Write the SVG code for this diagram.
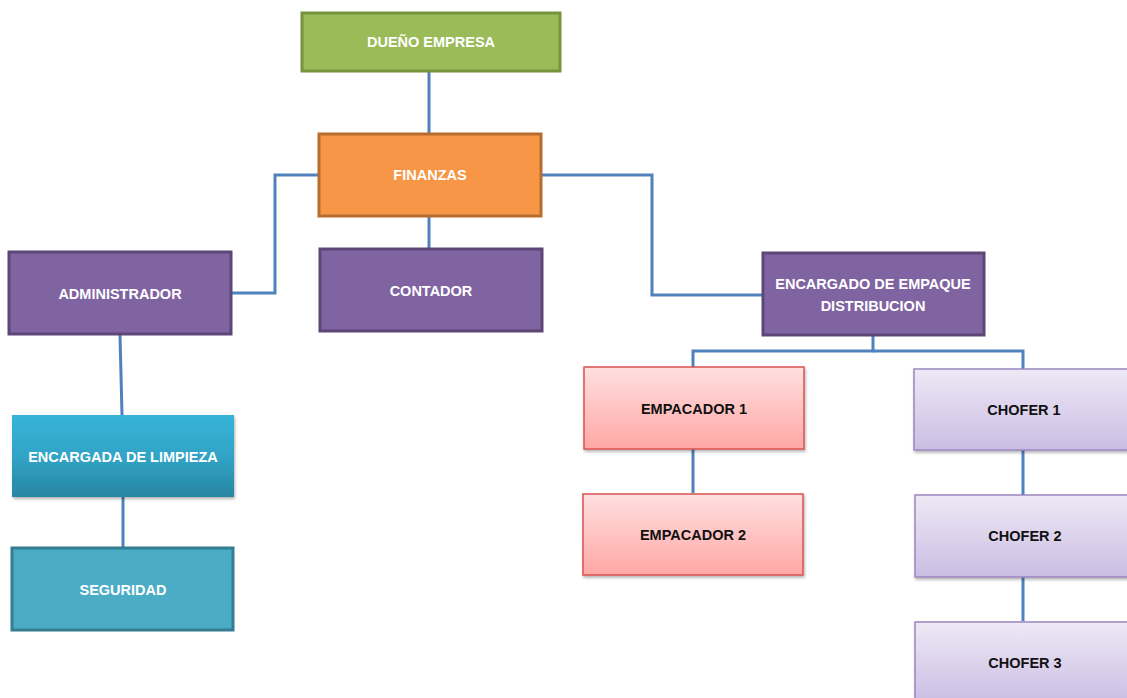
<svg xmlns="http://www.w3.org/2000/svg" width="1127" height="698" viewBox="0 0 1127 698">
<defs>
<linearGradient id="gCyan" x1="0" y1="0" x2="0" y2="1"><stop offset="0" stop-color="#37b4d9"/><stop offset="0.5" stop-color="#31a4c6"/><stop offset="1" stop-color="#2886a3"/></linearGradient>
<linearGradient id="gPink" x1="0" y1="0" x2="0" y2="1"><stop offset="0" stop-color="#ffe0e0"/><stop offset="1" stop-color="#ffa7a5"/></linearGradient>
<linearGradient id="gLav" x1="0" y1="0" x2="0" y2="1"><stop offset="0" stop-color="#eee9f6"/><stop offset="1" stop-color="#cbbde3"/></linearGradient>
<filter id="sh" x="-10%" y="-10%" width="130%" height="140%"><feDropShadow dx="1" dy="2" stdDeviation="1.5" flood-color="#000" flood-opacity="0.3"/></filter>
</defs>
<style>
.w{font-family:"Liberation Sans",Arial,sans-serif;font-weight:bold;font-size:14.5px;fill:#fff;text-anchor:middle;dominant-baseline:central}
.k{font-family:"Liberation Sans",Arial,sans-serif;font-weight:bold;font-size:14.5px;fill:#111;text-anchor:middle;dominant-baseline:central}
.purple{fill:#8064a2;stroke:#5c4776;stroke-width:3}
.c{fill:none;stroke:#4f81bd;stroke-width:3}
</style>
<g id="connectors">
<path class="c" d="M429 71 V133"/>
<path class="c" d="M429 217 V248"/>
<path class="c" d="M232 293 H275 V175 H318"/>
<path class="c" d="M542 175 H652 V295 H762"/>
<path class="c" d="M120 335 L122 415"/>
<path class="c" d="M123 497 V547"/>
<path class="c" d="M873 336 V351 H693 V367"/>
<path class="c" d="M873 351 H1023 V369"/>
<path class="c" d="M693 449 V493"/>
<path class="c" d="M1023 450 V495"/>
<path class="c" d="M1023 577 V621"/>
</g>
<g id="duenio">
<rect x="302" y="13" width="258" height="58" fill="#9bbb59" stroke="#77933c" stroke-width="3"/>
<text class="w" x="431" y="42">DUEÑO EMPRESA</text>
</g>
<g id="finanzas">
<rect x="319" y="134" width="222" height="82" fill="#f79646" stroke="#b86d2f" stroke-width="3"/>
<text class="w" x="430" y="175">FINANZAS</text>
</g>
<g id="administrador">
<rect class="purple" x="9" y="252" width="222" height="82"/>
<text class="w" x="120" y="294">ADMINISTRADOR</text>
</g>
<g id="contador">
<rect class="purple" x="320" y="249" width="222" height="82"/>
<text class="w" x="431" y="291">CONTADOR</text>
</g>
<g id="encargado">
<rect class="purple" x="763" y="253" width="221" height="82"/>
<text class="w" x="873" y="284">ENCARGADO DE EMPAQUE</text>
<text class="w" x="873" y="306">DISTRIBUCION</text>
</g>
<g id="limpieza">
<rect x="12" y="415" width="222" height="82" fill="url(#gCyan)" filter="url(#sh)"/>
<text class="w" x="123" y="457">ENCARGADA DE LIMPIEZA</text>
</g>
<g id="seguridad">
<rect x="12" y="548" width="221" height="82" fill="#4bacc6" stroke="#357d91" stroke-width="3"/>
<text class="w" x="123" y="590">SEGURIDAD</text>
</g>
<g id="empacador1">
<rect x="584" y="367" width="220" height="82" fill="url(#gPink)" stroke="#d9534f" stroke-width="1.5" filter="url(#sh)"/>
<text class="k" x="694" y="409">EMPACADOR 1</text>
</g>
<g id="empacador2">
<rect x="583" y="494" width="220" height="81" fill="url(#gPink)" stroke="#d9534f" stroke-width="1.5" filter="url(#sh)"/>
<text class="k" x="693" y="535">EMPACADOR 2</text>
</g>
<g id="chofer1">
<rect x="914" y="369" width="222" height="81" fill="url(#gLav)" stroke="#9b86c0" stroke-width="1.5" filter="url(#sh)"/>
<text class="k" x="1024" y="410">CHOFER 1</text>
</g>
<g id="chofer2">
<rect x="915" y="495" width="222" height="82" fill="url(#gLav)" stroke="#9b86c0" stroke-width="1.5" filter="url(#sh)"/>
<text class="k" x="1025" y="536">CHOFER 2</text>
</g>
<g id="chofer3">
<rect x="915" y="622" width="222" height="82" fill="url(#gLav)" stroke="#9b86c0" stroke-width="1.5" filter="url(#sh)"/>
<text class="k" x="1025" y="663">CHOFER 3</text>
</g>
</svg>
